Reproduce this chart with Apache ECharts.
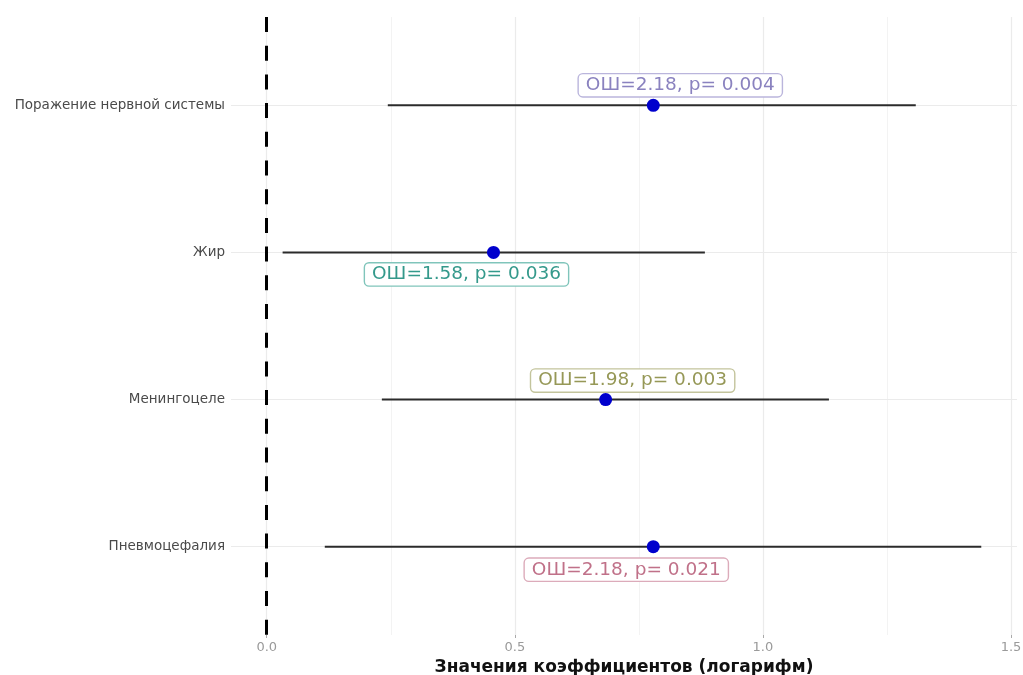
<!DOCTYPE html>
<html>
<head>
<meta charset="utf-8">
<script src="https://cdn.jsdelivr.net/npm/echarts@6/dist/echarts.min.js"></script>
<style>html,body{margin:0;padding:0;background:#fff}#c{width:1023px;height:675px}</style>
</head>
<body>
<div id="c"></div>
<script>
// Data
const categories = ['Поражение нервной системы', 'Жир', 'Менингоцеле', 'Пневмоцефалия'];
const estimates = [0.779, 0.457, 0.683, 0.779];
const ciLow = [0.244, 0.032, 0.232, 0.117];
const ciHigh = [1.308, 0.883, 1.133, 1.440];
const oddsRatios = ['2.18', '1.58', '1.98', '2.18'];
const pValues = ['0.004', '0.036', '0.003', '0.021'];
const xTicks = [0, 0.5, 1.0, 1.5];
const xMinorTicks = [0.25, 0.75, 1.25];
const xTickLabels = ['0.0', '0.5', '1.0', '1.5'];

// Styles
const labelText = ['#8a82bf', '#34998b', '#969857', '#c07189'];
const labelBorder = ['#bab5dc', '#80c5bb', '#c3c49c', '#dcabba'];
const labelOffset = [[27, -20], [-27, 22], [27, -19], [-27, 23]];

const yPos = categories.map((c, i) => i + 1);
const font = 'DejaVu Sans';

const chart = echarts.init(document.getElementById('c'), null, {renderer: 'canvas'});

const scatterData = categories.map((c, i) => ({
  value: [estimates[i], yPos[i]],
  label: {
    show: true,
    position: 'inside',
    offset: labelOffset[i],
    formatter: 'ОШ=' + oddsRatios[i] + ', p= ' + pValues[i],
    color: labelText[i],
    fontFamily: font,
    fontSize: 18.5,
    backgroundColor: '#fff',
    borderColor: labelBorder[i],
    borderWidth: 1.4,
    borderRadius: 4,
    padding: [2, 7, 1, 7]
  }
}));

const errorBarSeries = categories.map((c, i) => ({
  type: 'line',
  z: 4,
  silent: true,
  symbol: 'none',
  lineStyle: {color: '#2b2b2b', width: 2},
  data: [[ciLow[i], yPos[i]], [ciHigh[i], yPos[i]]]
}));

chart.setOption({
  animation: false,
  grid: {left: 231, right: 6, top: 17, bottom: 40, containLabel: false, outerBoundsMode: 'none'},
  xAxis: {
    type: 'value',
    min: -0.072,
    max: 1.512,
    splitLine: {show: false},
    axisLine: {show: false},
    axisTick: {show: true, customValues: xTicks, length: 3, lineStyle: {color: '#aaa'}},
    axisLabel: {
      customValues: xTicks,
      formatter: v => xTickLabels[xTicks.indexOf(Math.round(v * 10) / 10)],
      color: '#9a9a9a', fontFamily: font, fontSize: 13, margin: 6
    },
    name: 'Значения коэффициентов (логарифм)',
    nameLocation: 'middle',
    nameGap: 23,
    nameTextStyle: {color: '#111', fontFamily: font, fontSize: 17, fontWeight: 'bold'}
  },
  yAxis: {
    type: 'value',
    min: 0.4,
    max: 4.6,
    inverse: true,
    splitLine: {show: false},
    axisLine: {show: false},
    axisTick: {show: true, customValues: yPos, length: 4, lineStyle: {color: '#888'}},
    axisLabel: {
      customValues: yPos,
      formatter: v => categories[Math.round(v) - 1],
      color: '#4a4a4a', fontFamily: font, fontSize: 13.5, margin: 6
    }
  },
  series: [
    {
      type: 'line',
      data: [],
      silent: true,
      z: 1,
      markLine: {
        silent: true,
        z: 1,
        symbol: 'none',
        label: {show: false},
        animation: false,
        data: [
          ...xTicks.map(v => ({xAxis: v, lineStyle: {color: '#ebebeb', width: 1.2, type: 'solid'}})),
          ...xMinorTicks.map(v => ({xAxis: v, lineStyle: {color: '#f3f3f3', width: 1, type: 'solid'}})),
          ...yPos.map(v => ({yAxis: v, lineStyle: {color: '#ebebeb', width: 1.2, type: 'solid'}}))
        ]
      }
    },
    {
      type: 'line',
      data: [],
      silent: true,
      z: 3,
      markLine: {
        silent: true,
        z: 3,
        symbol: 'none',
        label: {show: false},
        data: [{xAxis: 0}],
        lineStyle: {color: '#000', width: 3, type: [15, 13.7]}
      }
    },
    ...errorBarSeries,
    {
      type: 'scatter',
      z: 5,
      symbolSize: 13,
      itemStyle: {color: '#0000cd', opacity: 1},
      data: scatterData
    }
  ]
});
</script>
</body>
</html>
